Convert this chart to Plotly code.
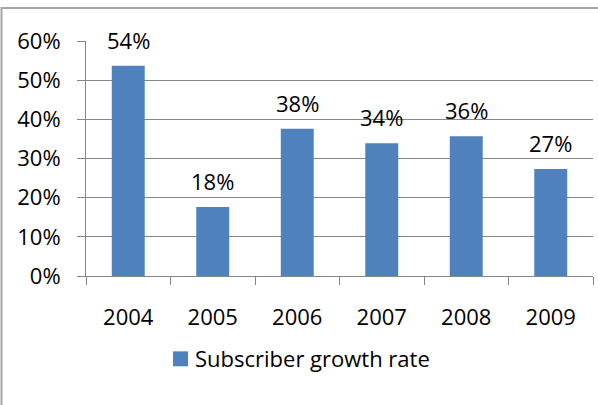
import plotly.graph_objects as go

years = ["2004", "2005", "2006", "2007", "2008", "2009"]
growth = [0.537, 0.176, 0.376, 0.339, 0.357, 0.273]
labels = ["54%", "18%", "38%", "34%", "36%", "27%"]
series_name = "Subscriber growth rate"

FONT = "Open Sans"
GRID = "#868686"
BAR = "#4F81BD"

L, R, T, B = 86, 5, 41, 128.5
W, H = 598, 405
pw = W - L - R
ph = H - T - B

def px_x(p):
    return (p - L) / pw

def px_y(p):
    return (H - B - p) / ph

fig = go.Figure()
fig.add_trace(go.Bar(x=years, y=growth, name=series_name, marker=dict(color=BAR, line=dict(width=0)),
                     width=0.39, showlegend=False))

for i, (v, lab) in enumerate(zip(growth, labels)):
    fig.add_annotation(x=i, y=v, text=lab, showarrow=False, yanchor="middle", yshift=26,
                       font=dict(family=FONT, size=22, color="#000000"))

# legend (manual)
fig.add_shape(type="rect", xref="paper", yref="paper",
              x0=px_x(173), x1=px_x(188), y0=px_y(367), y1=px_y(352),
              fillcolor=BAR, line=dict(width=0))
fig.add_annotation(xref="paper", yref="paper", x=px_x(193), y=px_y(359), text=series_name,
                   showarrow=False, xanchor="left", yanchor="middle",
                   font=dict(family=FONT, size=22, color="#000000"))

# chart border
fig.add_shape(type="rect", xref="paper", yref="paper",
              x0=px_x(1.5), x1=px_x(640), y0=px_y(450), y1=px_y(8),
              line=dict(color="#a6a6a6", width=2), fillcolor="rgba(0,0,0,0)", layer="below")

fig.update_layout(
    width=W, height=H,
    margin=dict(l=L, r=R, t=T, b=B),
    paper_bgcolor="white", plot_bgcolor="white",
    font=dict(family=FONT, size=22, color="#000000"),
    xaxis=dict(type="category", showline=True, linecolor=GRID, linewidth=1,
               ticks="outside", tickson="boundaries", ticklen=8, tickcolor=GRID,
               ticklabelstandoff=22, showgrid=False, automargin=False, tickangle=0,
               range=[-0.5, 5.5],
               tickfont=dict(family=FONT, size=22, color="#000000")),
    yaxis=dict(range=[0, 0.6], dtick=0.1, tickformat=".0%", showgrid=True, gridcolor=GRID,
               gridwidth=1, showline=True, linecolor=GRID, linewidth=1, zeroline=False,
               ticks="outside", ticklen=8, tickcolor=GRID, ticklabelstandoff=12, automargin=False,
               tickfont=dict(family=FONT, size=22, color="#000000")),
)

fig.write_html("out.html", config={"displayModeBar": False},
               post_script="document.body.style.margin='0';document.body.style.overflow='hidden';")
